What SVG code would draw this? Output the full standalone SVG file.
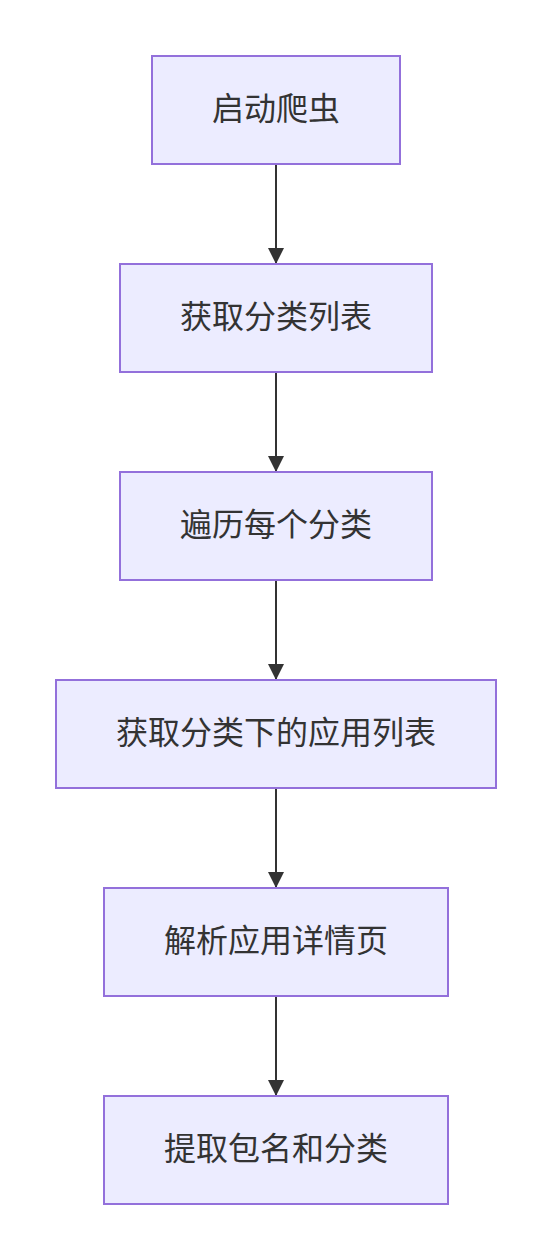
<svg xmlns="http://www.w3.org/2000/svg" width="552" height="1260" viewBox="0 0 552 1260">
<style>
.node rect{fill:#ECECFF;stroke:#9370DB;stroke-width:2}
.node text{font-family:"Noto Sans CJK SC","Noto Sans",sans-serif;font-size:32px;fill:#333333;text-anchor:middle;dominant-baseline:central}
.edge{stroke:#333333;stroke-width:2;fill:none;marker-end:url(#arrow)}
</style>
<defs>
<marker id="arrow" viewBox="0 0 16 16" refX="16" refY="8" markerWidth="16" markerHeight="16" markerUnits="userSpaceOnUse" orient="auto">
<path d="M0,0 L16,8 L0,16 z" fill="#333333"/>
</marker>
</defs>
<rect width="552" height="1260" fill="#ffffff"/>
<g id="connectors">
<line class="edge" x1="276" y1="164" x2="276" y2="264"/>
<line class="edge" x1="276" y1="372" x2="276" y2="472"/>
<line class="edge" x1="276" y1="580" x2="276" y2="680"/>
<line class="edge" x1="276" y1="788" x2="276" y2="888"/>
<line class="edge" x1="276" y1="996" x2="276" y2="1096"/>
</g>
<g id="n1" class="node"><rect x="152" y="56" width="248" height="108"/><text x="276" y="106">启动爬虫</text></g>
<g id="n2" class="node"><rect x="120" y="264" width="312" height="108"/><text x="276" y="314">获取分类列表</text></g>
<g id="n3" class="node"><rect x="120" y="472" width="312" height="108"/><text x="276" y="522">遍历每个分类</text></g>
<g id="n4" class="node"><rect x="56" y="680" width="440" height="108"/><text x="276" y="730">获取分类下的应用列表</text></g>
<g id="n5" class="node"><rect x="104" y="888" width="344" height="108"/><text x="276" y="938">解析应用详情页</text></g>
<g id="n6" class="node"><rect x="104" y="1096" width="344" height="108"/><text x="276" y="1146">提取包名和分类</text></g>
</svg>
